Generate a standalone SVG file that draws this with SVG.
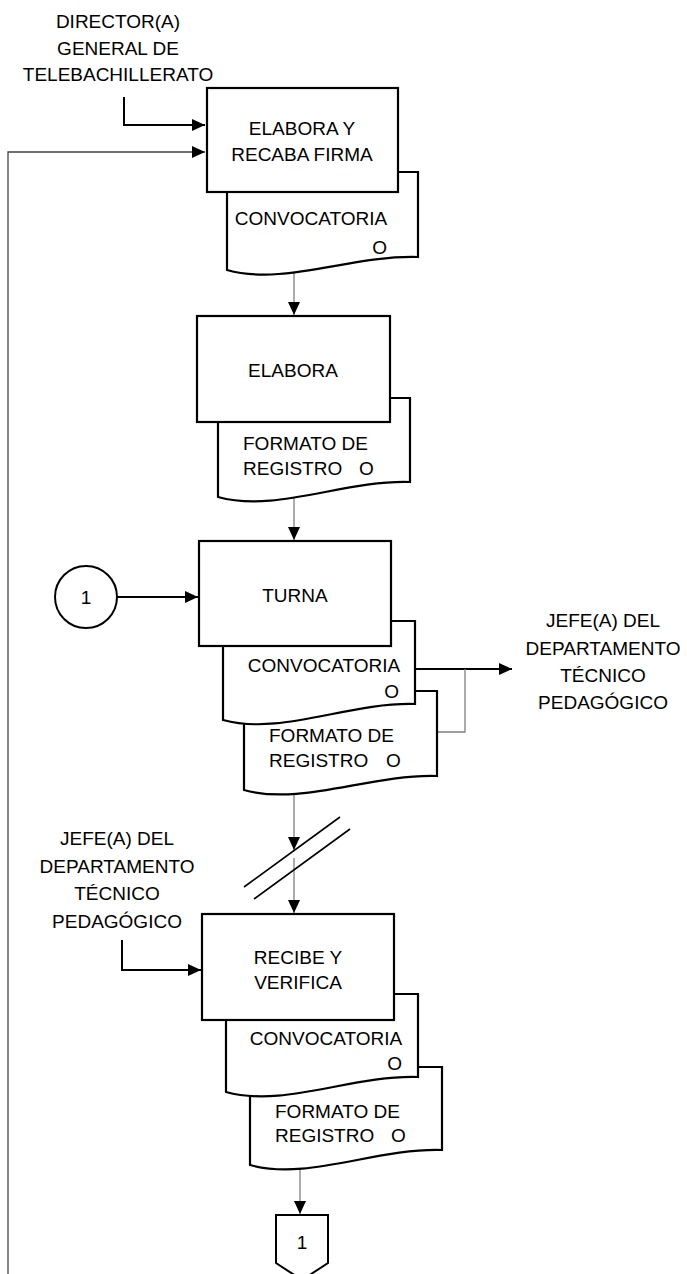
<svg xmlns="http://www.w3.org/2000/svg" width="687" height="1274" viewBox="0 0 687 1274">
<style>
text{font-family:"Liberation Sans",Arial,sans-serif;font-size:19px;fill:#000}
.c{text-anchor:middle}
.e{text-anchor:end}
.box{fill:#fff;stroke:#000;stroke-width:2.2}
.doc{fill:#fff;stroke:#000;stroke-width:2.2}
.g{fill:none;stroke:#7f7f7f;stroke-width:1.3}
.k{fill:none;stroke:#000;stroke-width:2}
.t{fill:none;stroke:#444;stroke-width:1.3}
</style>
<defs>
<marker id="ah" markerUnits="userSpaceOnUse" markerWidth="13" markerHeight="12" refX="13" refY="6" orient="auto">
<path d="M0,0 L13,6 L0,12 z" fill="#000"/>
</marker>
</defs>
<rect width="687" height="1274" fill="#fff"/>
<g id="connectors">
<path class="t" d="M8,1274 V152 H205" marker-end="url(#ah)"/>
<path class="k" d="M124,97 V125 H205" marker-end="url(#ah)"/>
<path class="g" d="M294,272 V315" marker-end="url(#ah)"/>
<path class="g" d="M294,492 V540" marker-end="url(#ah)"/>
<path class="k" d="M117,597 H198" marker-end="url(#ah)"/>
<path class="k" d="M415,669 H512" marker-end="url(#ah)"/>
<path class="g" d="M437,732 H465 V669"/>
<path class="g" d="M294,786 V850" marker-end="url(#ah)"/>
<path class="g" d="M294,858 V913" marker-end="url(#ah)"/>
<path d="M244,887 L340,817 M254,899 L350,829" stroke="#000" stroke-width="1.6" fill="none"/>
<path class="k" d="M122,940 V970 H201" marker-end="url(#ah)"/>
<path class="g" d="M300,1162 V1214" marker-end="url(#ah)"/>
</g>
<g id="lbl-director">
<text class="c" x="118" y="28">DIRECTOR(A)</text>
<text class="c" x="118" y="55">GENERAL DE</text>
<text class="c" x="118" y="81">TELEBACHILLERATO</text>
</g>
<g id="doc1">
<path class="doc" d="M227,172 H418 V257 C351,255 284,286 227,270 Z"/>
<text class="c" x="311" y="225">CONVOCATORIA</text>
<text class="e" x="387" y="254">O</text>
</g>
<g id="box1">
<rect class="box" x="207" y="88" width="191" height="104"/>
<text class="c" x="302" y="135">ELABORA Y</text>
<text class="c" x="302" y="160.5">RECABA FIRMA</text>
</g>
<g id="doc2">
<path class="doc" d="M218,398 H410 V482 C343,480 276,513 218,497 Z"/>
<text x="243" y="450">FORMATO DE</text>
<text y="475"><tspan x="243">REGISTRO</tspan><tspan x="359">O</tspan></text>
</g>
<g id="box2">
<rect class="box" x="197" y="316" width="193" height="106"/>
<text class="c" x="293" y="377">ELABORA</text>
</g>
<g id="connector-in-1">
<circle cx="86" cy="597" r="31" fill="#fff" stroke="#000" stroke-width="2"/>
<text class="c" x="86" y="604">1</text>
</g>
<g id="doc3b">
<path class="doc" d="M244,691 H437 V776 C369,774 302,806 244,790 Z"/>
<text x="269" y="742">FORMATO DE</text>
<text y="767"><tspan x="269">REGISTRO</tspan><tspan x="386">O</tspan></text>
</g>
<g id="doc3a">
<path class="doc" d="M223,621 H415 V704 C348,702 281,736 223,720 Z"/>
<text class="c" x="324" y="672">CONVOCATORIA</text>
<text class="e" x="399" y="697.5">O</text>
</g>
<g id="box3">
<rect class="box" x="199" y="541" width="192" height="105"/>
<text class="c" x="295" y="602">TURNA</text>
</g>
<g id="lbl-jefe-right">
<text class="c" x="603" y="627">JEFE(A) DEL</text>
<text class="c" x="603" y="654.5">DEPARTAMENTO</text>
<text class="c" x="603" y="682">TÉCNICO</text>
<text class="c" x="603" y="709">PEDAGÓGICO</text>
</g>
<g id="lbl-jefe-left">
<text class="c" x="117" y="845">JEFE(A) DEL</text>
<text class="c" x="117" y="872.5">DEPARTAMENTO</text>
<text class="c" x="117" y="900">TÉCNICO</text>
<text class="c" x="117" y="927.5">PEDAGÓGICO</text>
</g>
<g id="doc4b">
<path class="doc" d="M250,1067 H442 V1150 C375,1148 308,1181 250,1165 Z"/>
<text x="275" y="1118">FORMATO DE</text>
<text y="1142"><tspan x="275">REGISTRO</tspan><tspan x="391">O</tspan></text>
</g>
<g id="doc4a">
<path class="doc" d="M226,994 H418 V1077 C351,1075 284,1108 226,1092 Z"/>
<text class="c" x="326" y="1045">CONVOCATORIA</text>
<text class="e" x="402" y="1070">O</text>
</g>
<g id="box4">
<rect class="box" x="202" y="914" width="192" height="106"/>
<text class="c" x="298" y="964">RECIBE Y</text>
<text class="c" x="298" y="989">VERIFICA</text>
</g>
<g id="offpage-1">
<path d="M276,1215 H328 V1263 L302,1280 L276,1263 Z" fill="#fff" stroke="#000" stroke-width="2"/>
<text class="c" x="302" y="1249">1</text>
</g>
</svg>
